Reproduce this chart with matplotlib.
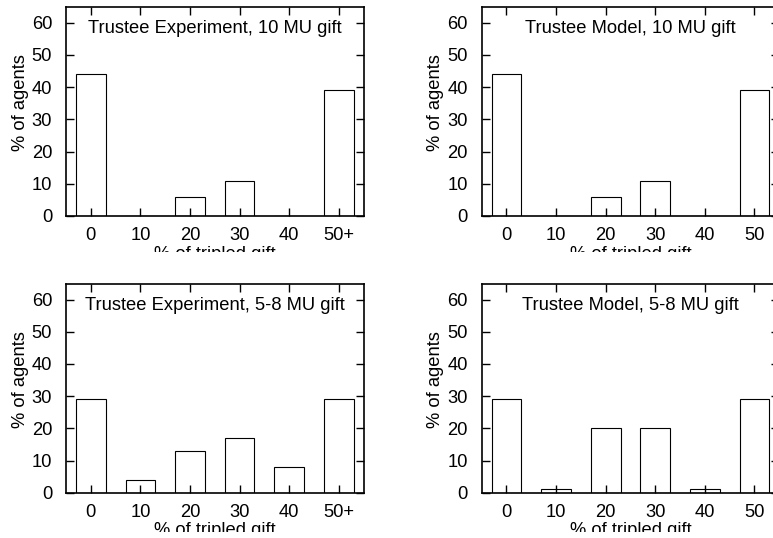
import matplotlib
matplotlib.use("Agg")
from matplotlib import pyplot as plt
from matplotlib.transforms import Bbox, TransformedBbox

plt.rcParams['font.family'] = ['Liberation Sans', 'DejaVu Sans']

# 数据
exp_labels = ['0', '10', '20', '30', '40', '50+']
model_labels = ['0', '10', '20', '30', '40', '50']
exp_10 = [44, 0, 6, 11, 0, 39]
model_10 = [44, 0, 6, 11, 0, 39]
exp_58 = [29, 4, 13, 17, 8, 29]
model_58 = [29, 1, 20, 20, 1, 29]
titles = ['Trustee Experiment, 10 MU gift', 'Trustee Model, 10 MU gift',
          'Trustee Experiment, 5-8 MU gift', 'Trustee Model, 5-8 MU gift']
series = [exp_10, model_10, exp_58, model_58]
labels = [exp_labels, model_labels, exp_labels, model_labels]

W, H = 773, 538
fig = plt.figure(figsize=(W / 100, H / 100), dpi=100)

# 每个子图的像素位置 (left, top, width, height)
boxes = [(66, 6.5, 297.5, 209.5), (481.7, 6.5, 297.5, 209.5),
         (66, 283.5, 297.5, 209.2), (481.7, 283.5, 297.5, 209.2)]
# x轴标题被裁掉的位置 (像素, 从上往下)
cut_y = [252, 252, 531.5, 531.5]
fs = 13.2

for i in range(4):
    l, t, w, h = boxes[i]
    ax = fig.add_axes([l / W, 1 - (t + h) / H, w / W, h / H])
    x = range(len(labels[i]))
    ax.bar(x, series[i], width=0.6, color='white', edgecolor='black', linewidth=0.8)
    ax.set_xlim(-0.5, 5.5)
    ax.set_ylim(0, 65)
    ax.set_yticks(range(0, 61, 10))
    ax.set_xticks(list(x))
    ax.set_xticklabels(labels[i])
    ax.tick_params(direction='in', top=True, right=True, length=5.5, width=1.0,
                   labelsize=fs, colors='black')
    ax.tick_params(axis='x', pad=8)
    ax.tick_params(axis='y', pad=10)
    for s in ax.spines.values():
        s.set_linewidth(1.2)
    ax.text(0.5, 0.896, titles[i], transform=ax.transAxes, ha='center', va='center',
            fontsize=fs)
    ax.set_ylabel('% of agents', fontsize=fs)
    ax.yaxis.set_label_coords(-0.126, 0.54)
    lab = ax.set_xlabel('% of tripled gift', fontsize=fs)
    ax.xaxis.set_label_coords(0.5, -29.7 / h)
    lab.set_clip_box(TransformedBbox(Bbox.from_extents(0, 1 - cut_y[i] / H, 1, 1), fig.transFigure))
    lab.set_clip_on(True)

plt.savefig('out.png', dpi=100)
